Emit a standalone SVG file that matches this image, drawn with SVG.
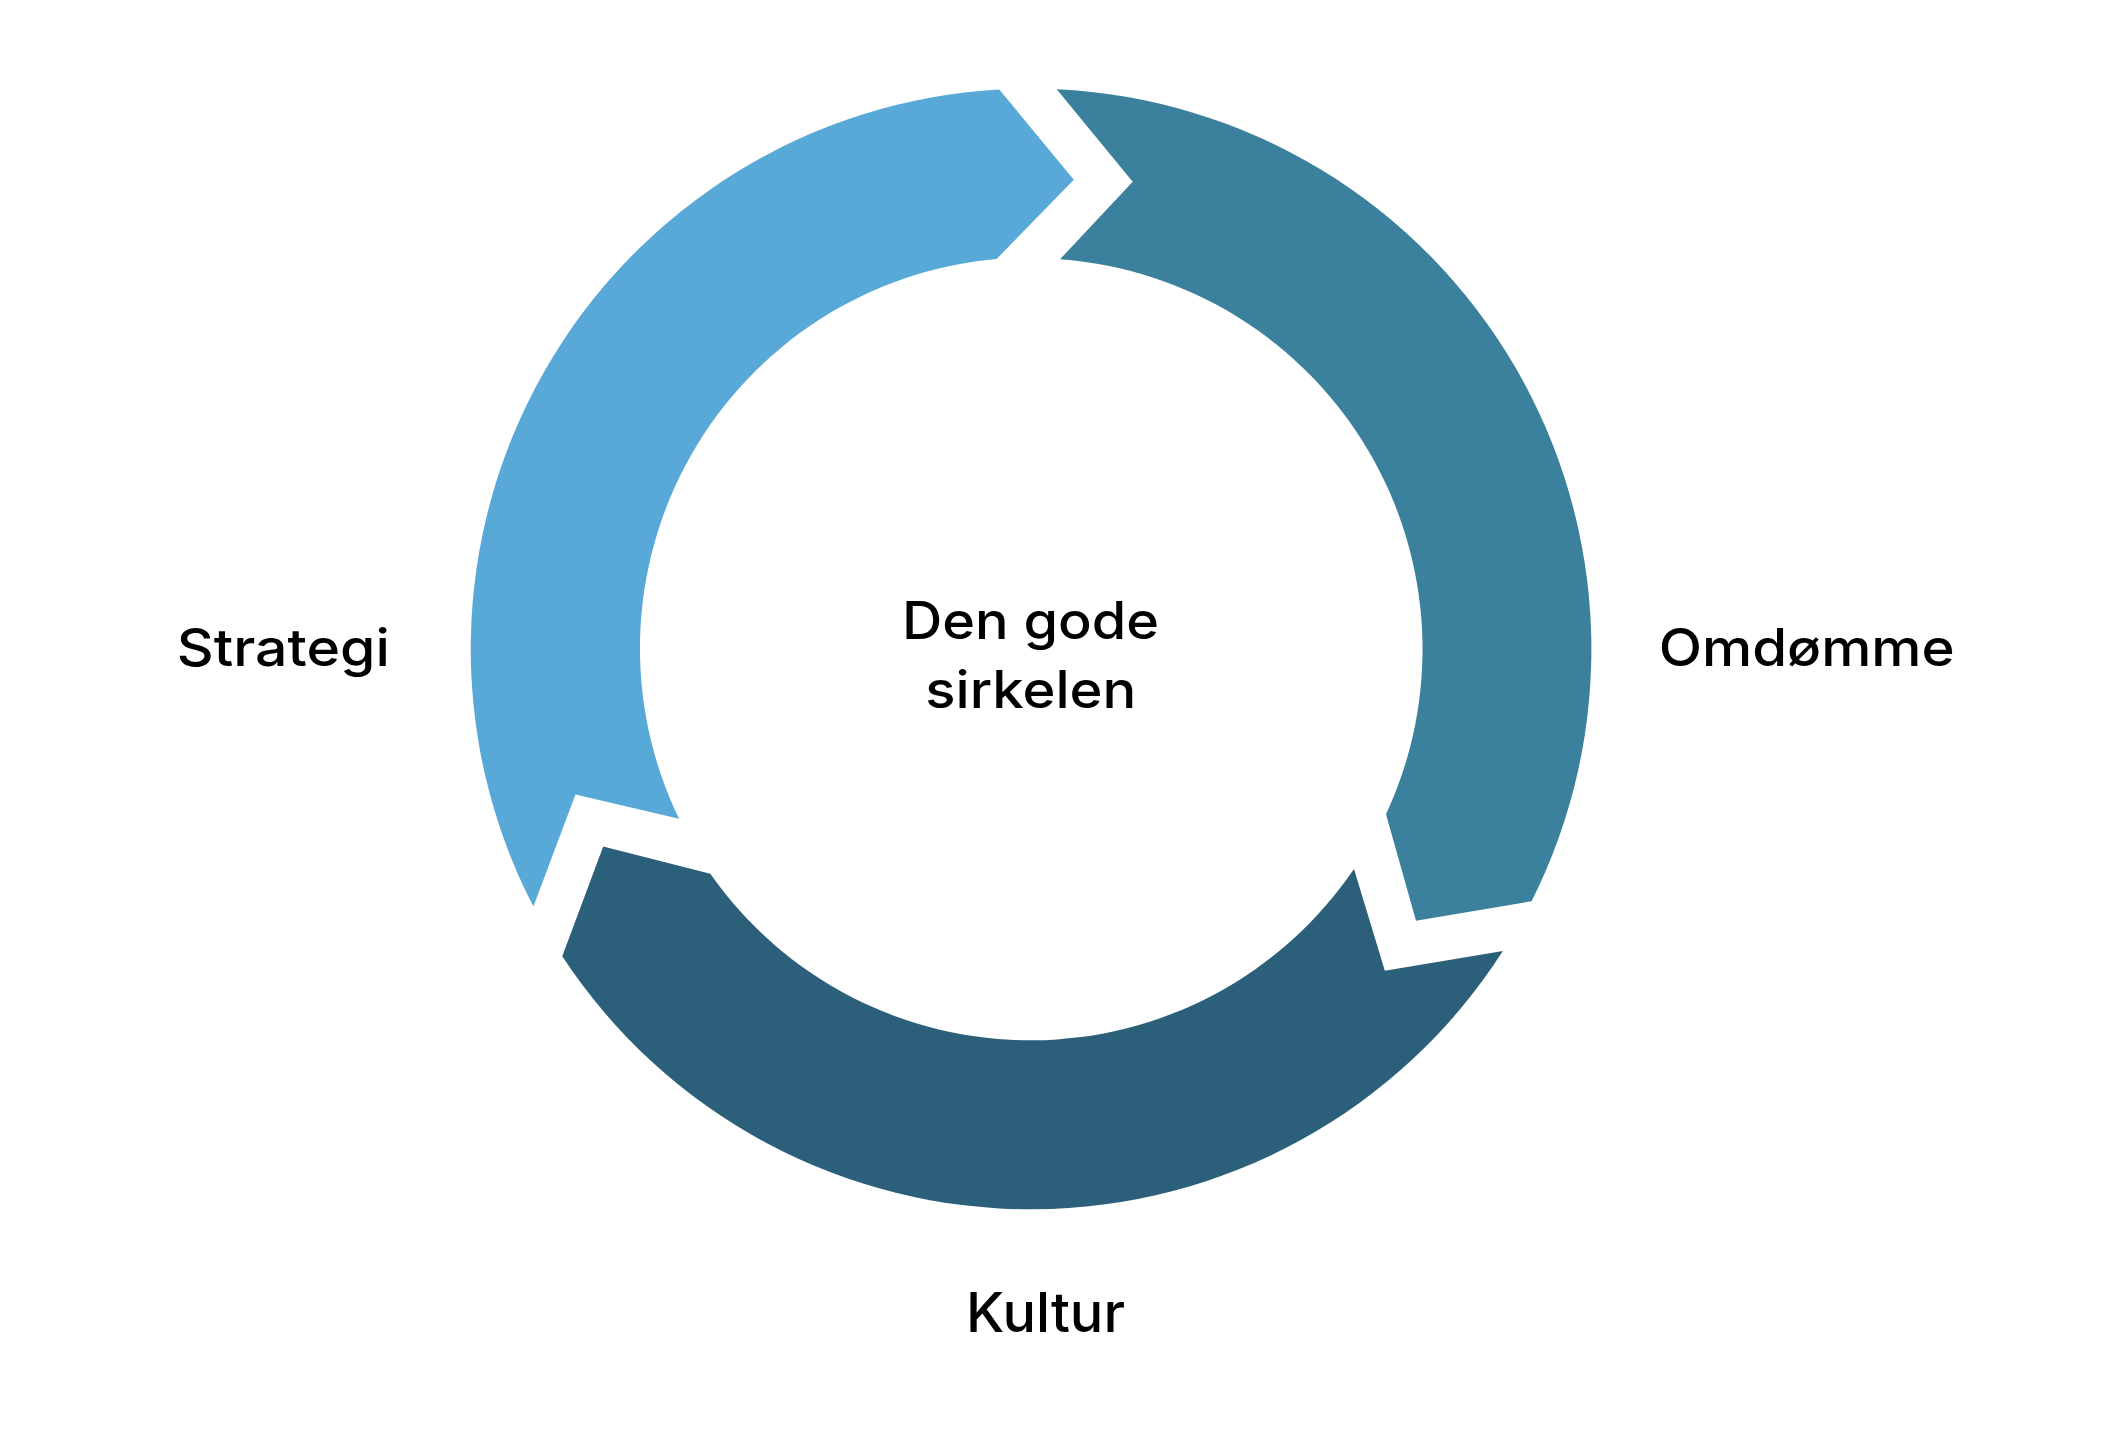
<svg xmlns="http://www.w3.org/2000/svg" width="2112" height="1434" viewBox="0 0 2112 1434">
<style>
.lbl{font-family:Inter,"DejaVu Sans",sans-serif;font-size:52px;fill:#000;text-anchor:middle;font-weight:500}
</style>
<defs>
<path id="seg" d="M1056.7,89.3 A560.5,560.5 0 0 1 1531.5,901.3 L1416,920.7 L1386,814.3 A391,391 0 0 0 1060,259.3 L1132.7,181.7 Z"/>
</defs>
<rect width="2112" height="1434" fill="#fff"/>
<g id="connectors"></g>
<g id="omdomme-arc"><use href="#seg" fill="#3B809D"/></g>
<g id="kultur-arc"><use href="#seg" fill="#2C607A" transform="rotate(120 1031 649)"/></g>
<g id="strategi-arc"><use href="#seg" fill="#58A8D8" transform="rotate(240 1031 649)"/></g>
<g id="center"><text class="lbl" x="1030.5" y="639" textLength="257" lengthAdjust="spacingAndGlyphs">Den gode</text><text class="lbl" x="1030.8" y="707.5" textLength="211" lengthAdjust="spacingAndGlyphs">sirkelen</text></g>
<g id="strategi"><text class="lbl" x="283.3" y="666" textLength="213" lengthAdjust="spacingAndGlyphs">Strategi</text></g>
<g id="omdomme"><text class="lbl" x="1806.7" y="666" textLength="296" lengthAdjust="spacingAndGlyphs">Omdømme</text></g>
<g id="kultur"><text class="lbl" x="1045.5" y="1332" style="font-size:55px" textLength="159" lengthAdjust="spacingAndGlyphs">Kultur</text></g>
</svg>
